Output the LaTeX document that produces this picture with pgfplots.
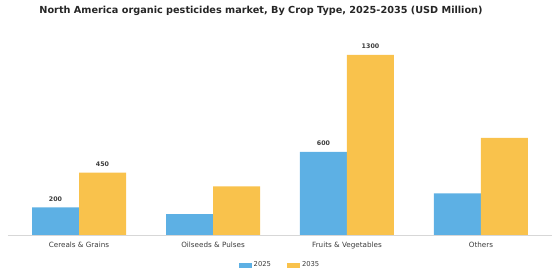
\documentclass[border=0pt]{standalone}
\usepackage{pgfplots}
\pgfplotsset{compat=1.18}
\usepackage{fontspec}
\setmainfont{DejaVu Sans}
\definecolor{cblue}{RGB}{93,176,228}
\definecolor{cyellow}{RGB}{249,194,76}
\definecolor{axgray}{RGB}{215,215,215}
\definecolor{txt}{RGB}{60,60,60}
\begin{document}
\begin{tikzpicture}
\begin{axis}[
  scale only axis,
  width=544pt, height=194pt,
  xmin=-0.53, xmax=3.53,
  ymin=0, ymax=1400,
  ybar=0pt, bar width=47pt,
  axis y line=none,
  axis x line*=bottom,
  x axis line style={axgray, line width=0.8pt},
  xtick={0,1,2,3},
  xticklabels={Cereals \& Grains, Oilseeds \& Pulses, Fruits \& Vegetables, Others},
  xtick style={draw=none},
  xticklabel style={font=\fontsize{7.2}{8.5}\selectfont, text=txt, yshift=1pt},
  point meta=explicit symbolic,
  nodes near coords,
  nodes near coords style={font=\bfseries\fontsize{6.3}{7}\selectfont, text=txt, yshift=2.5pt},
  legend style={at={(0.5,-0.155)}, anchor=center, draw=none, legend columns=2,
    font=\fontsize{6.8}{8}\selectfont, text=txt,
    /tikz/every even column/.append style={column sep=14pt}},
  legend image code/.code={\fill[#1] (0pt,-2.5pt) rectangle (13pt,2.5pt);},
]
\addplot[fill=cblue, draw=none] coordinates {(0,200) [200] (1,150) [] (2,600) [600] (3,300) []};
\addplot[fill=cyellow, draw=none] coordinates {(0,450) [450] (1,350) [] (2,1300) [1300] (3,700) []};
\legend{2025,2035}
\end{axis}
\node[font=\bfseries\fontsize{9.7}{11}\selectfont, text=black!85] at (253pt,224pt) {North America organic pesticides market, By Crop Type, 2025-2035 (USD Million)};
\useasboundingbox (-8pt,-45pt) rectangle (552pt,235pt);
\end{tikzpicture}
\end{document}
